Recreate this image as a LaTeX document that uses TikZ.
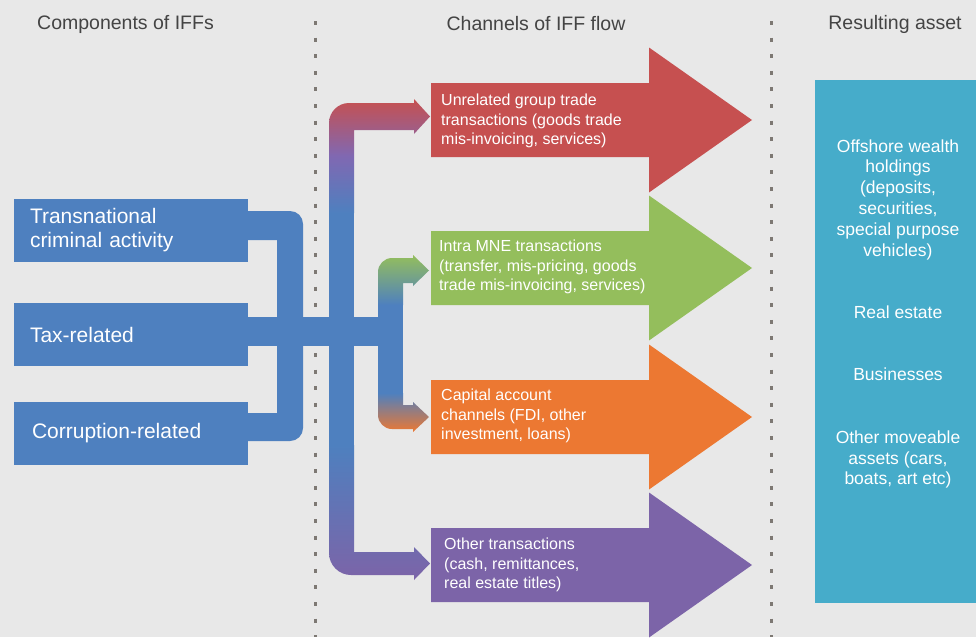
\documentclass[tikz,border=0pt]{standalone}
\usepackage{fontspec}
\setmainfont{Liberation Sans}
\usepackage{tikz}

\definecolor{bggrey}{RGB}{232,232,232}
\definecolor{hdrgrey}{RGB}{68,68,68}
\definecolor{dotgrey}{RGB}{125,120,115}
\definecolor{iffblue}{RGB}{78,128,191}
\definecolor{pipepurple}{RGB}{128,104,178}
\definecolor{chred}{RGB}{198,80,80}
\definecolor{chgreen}{RGB}{148,190,92}
\definecolor{chorange}{RGB}{236,120,50}
\definecolor{chpurple}{RGB}{124,100,168}
\definecolor{iffteal}{RGB}{70,172,202}

\tikzset{
  hdr/.style={text=hdrgrey, font=\fontsize{19.5}{22}\selectfont, inner sep=0pt},
  compbox/.style={fill=iffblue, text=white, minimum width=234pt, minimum height=63pt,
    text width=202pt, inner xsep=16pt, align=left, font=\fontsize{21}{24}\selectfont},
  chantext/.style={text=white, anchor=west, inner sep=0pt, align=left,
    font=\fontsize{16}{19.5}\selectfont},
  assettext/.style={text=white, inner sep=0pt, align=center,
    font=\fontsize{17.5}{20.8}\selectfont},
  sepdots/.style={draw=dotgrey, line width=3pt, dash pattern=on 4pt off 12.6pt}
}

\begin{document}
\begin{tikzpicture}[x=1pt,y=-1pt]
\fill[bggrey] (0,0) rectangle (976,637);
\useasboundingbox (0,0) rectangle (976,637);

\draw[sepdots] (315,21) -- (315,637);
\draw[sepdots] (771,21) -- (771,637);

\node[hdr] (hcomp) at (125.5,24) {Components of IFFs};
\node[hdr] (hchan) at (536,24) {Channels of IFF flow};
\node[hdr] (hres) at (895,24) {Resulting asset};

\node[compbox] (crime) at (131,230.5) {Transnational\\criminal activity};
\node[compbox] (tax) at (131,334.5) {Tax-related};
\node[compbox] (corrupt) at (131,433.5) {\hspace*{2pt}Corruption-related};

\fill[iffblue] (crime.east |- 0,211) -- (290,211) .. controls (297.2,211) and (303,216.8) .. (303,224)
  -- (303,428) .. controls (303,435.2) and (297.2,441) .. (290,441) -- (corrupt.east |- 0,441)
  -- (corrupt.east |- 0,413) -- (277,413) -- (277,240) -- (crime.east |- 0,240) -- cycle;
\fill[iffblue] (tax.east |- 0,317) rectangle (403,346);
\fill[iffblue] (329,210) rectangle (354,470);
\fill[iffblue] (378,300) rectangle (403,394);

\shade[top color=chred, bottom color=iffblue, middle color=pipepurple]
  (329,213) -- (329,123) .. controls (329,112) and (338,103) .. (349,103) -- (414,103) -- (414,99)
  -- (430,116.5) -- (414,134) -- (414,130) -- (354,130) -- (354,213) -- cycle;
\shade[top color=chgreen, bottom color=iffblue]
  (378,305) -- (378,272) .. controls (378,264.3) and (384.3,258) .. (392,258) -- (413,258) -- (413,255)
  -- (429,270.5) -- (413,286) -- (413,283) -- (403,283) -- (403,305) -- cycle;
\shade[top color=iffblue, bottom color=chorange]
  (378,393) -- (378,415) .. controls (378,422.7) and (384.3,429) .. (392,429) -- (413,429) -- (413,432)
  -- (429,417) -- (413,402) -- (413,405) -- (403,405) -- (403,393) -- cycle;
\shade[top color=iffblue, bottom color=chpurple]
  (329,445) -- (329,553) .. controls (329,565.1) and (338.9,575) .. (351,575) -- (414,575) -- (414,580)
  -- (430,563.5) -- (414,547) -- (414,552) -- (354,552) -- (354,445) -- cycle;

\foreach \yc/\col in {120/chred, 268/chgreen, 417/chorange, 565/chpurple} {
  \fill[\col] (431,{\yc-37}) -- (649,{\yc-37}) -- (649,{\yc-72.5}) -- (752,\yc)
    -- (649,{\yc+72.5}) -- (649,{\yc+37}) -- (431,{\yc+37}) -- cycle;
}

\node[chantext] (unrel) at (441,121) {Unrelated group trade\\transactions (goods trade\\mis-invoicing, services)};
\node[chantext] (intra) at (439,267) {Intra MNE transactions\\(transfer, mis-pricing, goods\\trade mis-invoicing, services)};
\node[chantext] (capital) at (441,416) {Capital account\\channels (FDI, other\\investment, loans)};
\node[chantext] (other) at (444,565) {Other transactions\\(cash, remittances,\\real estate titles)};

\fill[iffteal] (815,80) rectangle (976,603);
\node[assettext] (assets) at (898,314) {Offshore wealth\\holdings\\(deposits,\\securities,\\special purpose\\vehicles)\\[41.6pt]Real estate\\[41.6pt]Businesses\\[41.6pt]Other moveable\\assets (cars,\\boats, art etc)};
\end{tikzpicture}
\end{document}
